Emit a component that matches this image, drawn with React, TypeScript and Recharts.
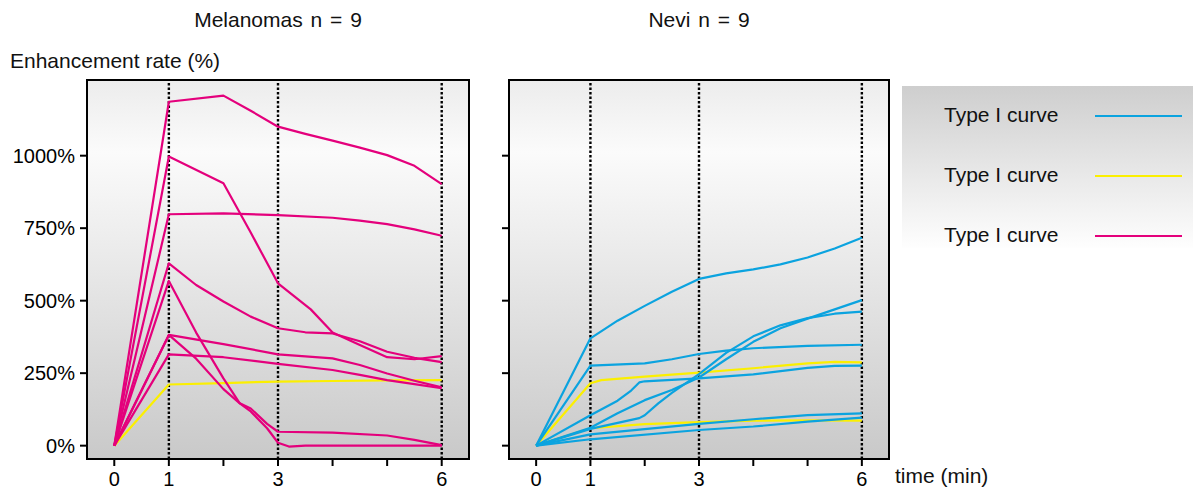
import React from 'react'
import {
  LineChart,
  Line,
  XAxis,
  YAxis,
  ReferenceArea,
  ReferenceLine,
} from 'recharts'

const MAGENTA = '#e4007c'
const BLUE = '#0ba3df'
const YELLOW = '#fbef00'
const FONT = '"Liberation Sans", Arial, Helvetica, sans-serif'

// time (min) / enhancement rate (%) pairs
const melA = [[0, 0], [1, 1186], [2, 1207], [2.5, 1155], [3, 1100], [3.5, 1075], [4, 1052], [4.5, 1028], [5, 1002], [5.5, 965], [6, 902]]
const melB = [[0, 0], [1, 997], [2, 905], [2.5, 735], [3, 560], [3.3, 515], [3.6, 470], [4, 390], [4.5, 347], [5, 305], [5.5, 298], [6, 309]]
const melC = [[0, 0], [1, 629], [1.5, 554], [2, 497], [2.5, 445], [3, 405], [3.5, 391], [4, 387], [4.5, 360], [5, 324], [5.5, 303], [6, 288]]
const melD = [[0, 0], [1, 568], [1.5, 390], [2, 232], [2.3, 146], [2.5, 118], [2.8, 60], [3, 10], [3.2, -3], [3.5, 0], [4, 0], [5, 0], [6, 0]]
const melE = [[0, 0], [1, 382], [1.5, 300], [2, 195], [2.3, 146], [2.5, 128], [2.8, 75], [3, 48], [4, 45], [5, 35], [5.5, 20], [6, 2]]
const melF = [[0, 0], [1, 798], [2, 801], [3, 795], [4, 786], [4.5, 776], [5, 764], [5.5, 746], [6, 724]]
const melG = [[0, 0], [1, 382], [2, 350], [3, 315], [4, 301], [4.5, 278], [5, 249], [5.5, 224], [6, 201]]
const melH = [[0, 0], [1, 315], [2, 305], [3, 282], [4, 261], [4.5, 244], [5, 226], [5.5, 212], [6, 198]]
const melY = [[0, 0], [1, 211], [2, 216], [3, 221], [4, 223], [5, 225], [6, 226]]

const nevA = [[0, 0], [1, 370], [1.5, 431], [2, 482], [2.5, 531], [3, 575], [3.5, 594], [4, 608], [4.5, 625], [5, 649], [5.5, 680], [6, 717]]
const nevB = [[0, 0], [1, 276], [2, 284], [2.5, 298], [3, 316], [3.5, 328], [4, 336], [5, 344], [6, 348]]
const nevC = [[0, 0], [1, 105], [1.5, 155], [1.75, 190], [1.9, 218], [2, 222], [3, 232], [4, 246], [5, 268], [5.5, 275], [6, 276]]
const nevD = [[0, 0], [1, 62], [1.5, 112], [2, 157], [2.5, 192], [3, 235], [3.5, 298], [4, 358], [4.5, 405], [5, 438], [5.5, 470], [6, 502]]
const nevE = [[0, 0], [1, 58], [1.9, 95], [2, 105], [2.25, 146], [2.5, 182], [3, 247], [3.5, 320], [4, 377], [4.5, 415], [5, 440], [5.5, 455], [6, 462]]
const nevF = [[0, 0], [1, 39], [3, 75], [4, 91], [5, 105], [6, 111]]
const nevG = [[0, 0], [1, 22], [3, 54], [4, 66], [5, 83], [6, 97]]
const nevY1 = [[0, 0], [1, 215], [1.2, 226], [2, 238], [3, 252], [4, 267], [5, 284], [5.5, 289], [6, 287]]
const nevY2 = [[0, 0], [1, 60], [2, 74], [3, 81], [4, 86], [5, 87], [6, 86]]

const timeTicks = [0, 1, 2, 3, 4, 5, 6]
const labelledTicks = [0, 1, 3, 6]
const markerMinutes = [1, 3, 6]
const rateTicks = [0, 250, 500, 750, 1000]

const legendItems = [
  { label: 'Type I curve', color: BLUE },
  { label: 'Type I curve', color: YELLOW },
  { label: 'Type I curve', color: MAGENTA },
]

const X_DOMAIN = [-0.5, 6.5]
const Y_DOMAIN = [-46, 1261]

const toPoints = (pairs: number[][]) => pairs.map(([t, v]) => ({ t, v }))

interface Curve {
  pts: number[][]
  color: string
}

interface PanelProps {
  id: string
  curves: Curve[]
  width: number
  axisWidth: number
  showLabels: boolean
}

const Panel = ({ id, curves, width, axisWidth, showLabels }: PanelProps) => (
  <LineChart
    width={width}
    height={492}
    margin={{ top: 80, right: 11, bottom: 0, left: 0 }}
  >
    <defs>
      <linearGradient id={id} x1="0" y1="0" x2="0" y2="1">
        <stop offset="0%" stopColor="#ececec" />
        <stop offset="19%" stopColor="#fbfbfb" />
        <stop offset="100%" stopColor="#c9c9c9" />
      </linearGradient>
    </defs>
    <XAxis
      type="number"
      dataKey="t"
      domain={X_DOMAIN}
      ticks={timeTicks}
      interval={0}
      allowDataOverflow
      tickFormatter={(v: number) => (labelledTicks.includes(v) ? String(v) : '')}
      axisLine={false}
      tickLine={{ stroke: '#000', strokeWidth: 2 }}
      tickSize={7}
      tickMargin={6}
      tick={{ fill: '#000', fontSize: 20, fontFamily: FONT }}
      height={33}
    />
    <YAxis
      type="number"
      domain={Y_DOMAIN}
      ticks={rateTicks}
      interval={0}
      allowDataOverflow
      tickFormatter={(v: number) => (showLabels ? `${v}%` : '')}
      axisLine={false}
      tickLine={{ stroke: '#000', strokeWidth: 2 }}
      tickSize={7}
      tickMargin={5}
      tick={{ fill: '#000', fontSize: 20, fontFamily: FONT }}
      width={axisWidth}
    />
    <ReferenceArea
      x1={X_DOMAIN[0]}
      x2={X_DOMAIN[1]}
      y1={Y_DOMAIN[0]}
      y2={Y_DOMAIN[1]}
      fill={`url(#${id})`}
      fillOpacity={1}
      stroke="#000"
      strokeWidth={2}
    />
    {markerMinutes.map((m) => (
      <ReferenceLine
        key={m}
        x={m}
        stroke="#000"
        strokeWidth={2.4}
        strokeDasharray="2.5 2"
      />
    ))}
    {curves.map((c, i) => (
      <Line
        key={i}
        data={toPoints(c.pts)}
        dataKey="v"
        type="linear"
        stroke={c.color}
        strokeWidth={2.2}
        strokeLinejoin="round"
        dot={false}
        activeDot={false}
        isAnimationActive={false}
      />
    ))}
  </LineChart>
)

const melanomaCurves: Curve[] = [
  { pts: melY, color: YELLOW },
  ...[melA, melB, melC, melD, melE, melF, melG, melH].map((pts) => ({ pts, color: MAGENTA })),
]

const neviCurves: Curve[] = [
  { pts: nevY1, color: YELLOW },
  { pts: nevY2, color: YELLOW },
  ...[nevA, nevB, nevC, nevD, nevE, nevF, nevG].map((pts) => ({ pts, color: BLUE })),
]

const text: React.CSSProperties = {
  position: 'absolute',
  fontFamily: FONT,
  fontSize: 21,
  lineHeight: '21px',
  color: '#111',
  whiteSpace: 'nowrap',
}

export default function App() {
  return (
    <div
      style={{
        position: 'absolute',
        left: 0,
        top: 0,
        width: 1193,
        height: 492,
        background: '#fff',
        overflow: 'hidden',
      }}
    >
      <div style={{ position: 'absolute', left: 0, top: 0 }}>
        <Panel id="bgMel" curves={melanomaCurves} width={480} axisWidth={87} showLabels />
      </div>
      <div style={{ position: 'absolute', left: 430, top: 0 }}>
        <Panel id="bgNev" curves={neviCurves} width={470} axisWidth={79} showLabels={false} />
      </div>

      <div style={{ ...text, left: 0, width: 556, top: 9, textAlign: 'center', wordSpacing: 2 }}>
        Melanomas n = 9
      </div>
      <div style={{ ...text, left: 509, width: 380, top: 9, textAlign: 'center', wordSpacing: 2 }}>
        Nevi n = 9
      </div>
      <div style={{ ...text, left: 10, top: 50 }}>Enhancement rate (%)</div>
      <div style={{ ...text, left: 895, top: 465 }}>time (min)</div>

      <div
        style={{
          position: 'absolute',
          left: 902,
          top: 86,
          width: 291,
          height: 162,
          background: 'linear-gradient(#cecece, #fefefe)',
        }}
      >
        {legendItems.map((item, i) => (
          <React.Fragment key={i}>
            <div style={{ ...text, left: 42, top: 18 + i * 60 }}>{item.label}</div>
            <div
              style={{
                position: 'absolute',
                left: 193,
                top: 29 + i * 60,
                width: 87,
                height: 2,
                background: item.color,
              }}
            />
          </React.Fragment>
        ))}
      </div>
    </div>
  )
}
